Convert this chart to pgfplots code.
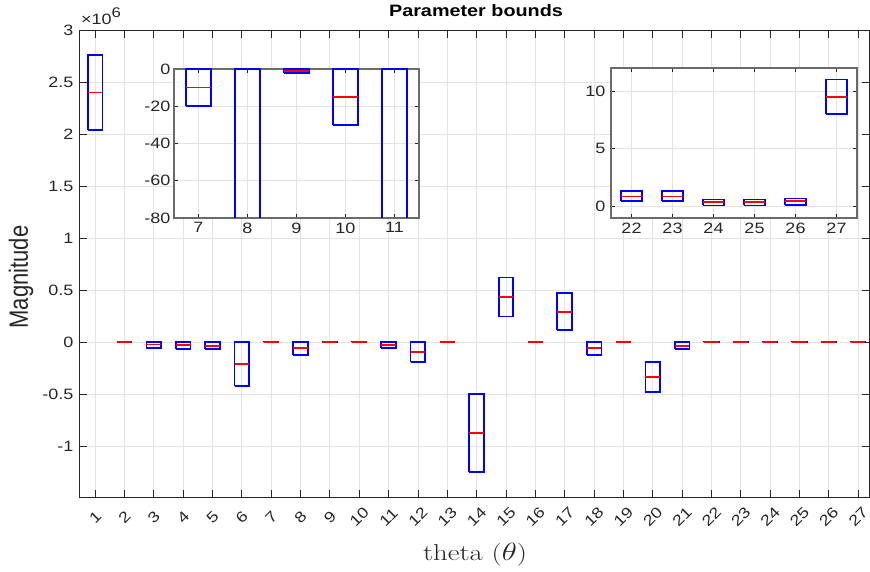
\documentclass[border=0pt]{standalone}
\usepackage{pgfplots}
\pgfplotsset{compat=1.18}
\usepackage{fontspec}
\setsansfont{Liberation Sans}[FakeStretch=1.2]
\newfontfamily\sfplain{Liberation Sans}
\definecolor{axgray}{gray}{0.15}
\definecolor{gridgray}{gray}{0.89}
\definecolor{insetgray}{gray}{0.42}
\definecolor{boxblue}{rgb}{0,0,1}
\definecolor{medred}{rgb}{1,0,0}
% #1 position, #2 lower bound, #3 median, #4 upper bound  (box width 0.5)
\newcommand{\bx}[4]{%
  \pgfmathsetmacro\xl{#1-0.25}%
  \pgfmathsetmacro\xr{#1+0.25}%
  \addplot[draw=boxblue, line width=1.7pt, line join=miter, mark=none] coordinates {(\xl,#2) (\xr,#2) (\xr,#4) (\xl,#4) (\xl,#2)};
  \addplot[draw=medred, line width=1.7pt, mark=none] coordinates {(\xl,#3) (\xr,#3)};
}
\pgfplotsset{
  mystyle/.style={
    scale only axis,
    axis line style={axgray, line width=0.9pt},
    tick style={axgray, line width=0.9pt},
    tick align=inside,
    tick pos=both,
    grid=major,
    major grid style={gridgray, line width=0.9pt},
    /pgf/number format/assume math mode=true,
    ticklabel style={font=\sffamily\fontsize{15}{15}\selectfont, text=axgray},
  }
}
\begin{document}
\begin{tikzpicture}[x=1pt,y=1pt]
\useasboundingbox (0,0) rectangle (870,571);
\begin{axis}[mystyle,
  at={(79pt,74pt)}, anchor=south west,
  width=790pt, height=467pt,
  xmin=0.45, xmax=27.37, ymin=-1.49, ymax=3,
  xtick={1,...,27},
  major tick length=7.5pt,
  xticklabel style={anchor=center, yshift=-20pt, rotate=45},
  ytick={-1,-0.5,0,0.5,1,1.5,2,2.5,3},
  yticklabels={-1,-0.5,0,0.5,1,1.5,2,2.5,3},
  yticklabel style={anchor=east, xshift=-2pt},
]
\bx{1}{2.04}{2.40}{2.76}
\bx{2}{0}{0}{0}
\bx{3}{-0.055}{-0.023}{0}
\bx{4}{-0.065}{-0.03}{0}
\bx{5}{-0.07}{-0.035}{0}
\bx{6}{-0.42}{-0.21}{0}
\bx{7}{-0.00002}{-0.00001}{0}
\bx{8}{-0.125}{-0.06}{0}
\bx{9}{-0.000002}{-0.000001}{0}
\bx{10}{-0.00003}{-0.000015}{0}
\bx{11}{-0.06}{-0.03}{0}
\bx{12}{-0.19}{-0.095}{0}
\bx{13}{0}{0}{0}
\bx{14}{-1.25}{-0.875}{-0.5}
\bx{15}{0.245}{0.43}{0.62}
\bx{16}{0}{0}{0}
\bx{17}{0.115}{0.29}{0.47}
\bx{18}{-0.122}{-0.06}{0}
\bx{19}{0}{0}{0}
\bx{20}{-0.483}{-0.338}{-0.193}
\bx{21}{-0.064}{-0.035}{0}
\bx{22}{0.00000046}{0.00000087}{0.00000133}
\bx{23}{0.00000046}{0.00000087}{0.00000133}
\bx{24}{0.00000009}{0.00000037}{0.0000006}
\bx{25}{0.00000009}{0.00000037}{0.0000006}
\bx{26}{0.0000001}{0.00000045}{0.0000007}
\bx{27}{0.000008}{0.0000095}{0.000011}
\end{axis}
% inset 1
\begin{axis}[mystyle,
  at={(174pt,353pt)}, anchor=south west,
  width=245pt, height=149pt,
  axis background/.style={fill=white},
  axis line style={insetgray, line width=1.4pt},
  major tick length=4pt,
  xmin=6.5, xmax=11.5, ymin=-80, ymax=0,
  xtick={7,8,9,10,11},
  ytick={-80,-60,-40,-20,0},
  yticklabels={-80,-60,-40,-20,0},
  yticklabel style={anchor=east, xshift=0pt},
  xticklabel style={yshift=-1pt},
]
\bx{7}{-20}{-10}{0}
\bx{8}{-100}{-95}{0}
\bx{9}{-2}{-1}{0}
\bx{10}{-30}{-15}{0}
\bx{11}{-100}{-95}{0}
\end{axis}
% inset 2
\begin{axis}[mystyle,
  at={(611pt,353pt)}, anchor=south west,
  width=246pt, height=150pt,
  axis background/.style={fill=white},
  axis line style={insetgray, line width=1.4pt},
  major tick length=4pt,
  xmin=21.5, xmax=27.5, ymin=-1, ymax=12,
  xtick={22,...,27},
  ytick={0,5,10},
  yticklabel style={anchor=east, xshift=-2pt},
  xticklabel style={yshift=-1pt},
]
\bx{22}{0.46}{0.87}{1.33}
\bx{23}{0.46}{0.87}{1.33}
\bx{24}{0.09}{0.37}{0.6}
\bx{25}{0.09}{0.37}{0.6}
\bx{26}{0.1}{0.45}{0.7}
\bx{27}{8.0}{9.5}{11.0}
\end{axis}
\node[font=\sffamily\bfseries\fontsize{16.5}{16.5}\selectfont, text=black] at (476,560) {Parameter bounds};
\node[anchor=base west, font=\sffamily\fontsize{15}{15}\selectfont, text=axgray, inner sep=0pt] at (81,546) {×10\raisebox{7.5pt}{\fontsize{14}{14}\selectfont 6}};
\node[rotate=90, font=\sfplain\fontsize{22}{22}\selectfont, text=axgray] at (21,294) {\scalebox{1}[1.2]{Magnitude}};
\node[font=\rmfamily\fontsize{23}{23}\selectfont, text=axgray] at (475,16) {\scalebox{1.25}[1]{theta ($\theta$)}};
\end{tikzpicture}
\end{document}
